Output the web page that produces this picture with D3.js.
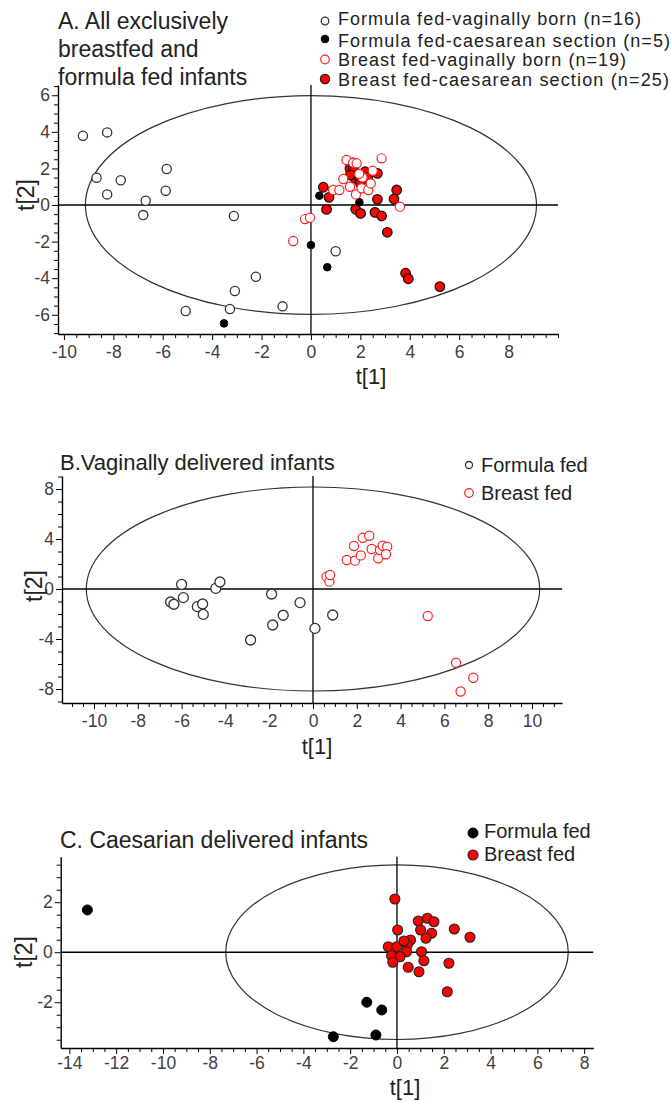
<!DOCTYPE html>
<html>
<head>
<meta charset="utf-8">
<script src="https://cdn.jsdelivr.net/npm/d3@7"></script>
<style>
  body { margin: 0; background: #fff; }
  svg { font-family: "Liberation Sans", Arial, sans-serif; display: block; }
</style>
</head>
<body>
<svg id="chart"></svg>
<script>
// panel A: all exclusively breastfed and formula fed infants, [t1, t2]
const aFormulaVag = [[-9.23,3.79],[-8.25,3.97],[-8.68,1.49],[-7.70,1.35],[-5.84,1.97],[-5.88,0.78],[-8.25,0.58],[-6.69,0.23],[-6.79,-0.55],[-3.12,-0.60],[-2.23,-3.92],[-3.08,-4.70],[-5.07,-5.79],[-3.28,-5.68],[-1.15,-5.54],[1.0,-2.53]];
const aFormulaCs = [[-3.52,-6.47],[0,-2.19],[0.66,-3.4],[0.34,0.51],[1.96,0.15]];
const aBreastVag = [[-0.72,-1.97],[-0.24,-0.77],[-0.04,-0.69],[3.6,-0.09],[2.86,2.55],[1.44,2.46],[1.71,2.31],[2.5,1.87],[1.31,1.42],[0.9,0.82],[1.15,0.82],[1.58,1.0],[1.82,0.58],[2.05,0.91],[2.32,0.82],[2.42,1.18],[2.09,1.51],[1.85,2.28],[1.95,1.7]];
const aBreastCs = [[0.5,0.97],[0.73,0.42],[0.63,-0.24],[3.47,0.82],[3.36,0.33],[2.69,0.31],[1.81,-0.23],[2.01,-0.46],[2.59,-0.4],[2.86,-0.6],[3.09,-1.49],[3.83,-3.73],[3.94,-4.03],[5.22,-4.46],[1.78,1.46],[1.58,2.0],[1.85,1.73],[1.71,2.09],[2.19,1.82],[2.69,1.73],[1.98,1.37],[1.6,1.65],[2.3,1.5],[1.7,2.3],[2.0,1.2]];

// panel B: vaginally delivered
const bFormula = [[-6.5,-1.04],[-6.35,-1.22],[-6.0,0.37],[-5.92,-0.69],[-5.28,-1.41],[-5.04,-1.2],[-5.01,-2.03],[-4.44,0.05],[-4.25,0.56],[-1.89,-0.4],[-1.84,-2.88],[-1.36,-2.1],[-2.85,-4.08],[-0.59,-1.09],[0.09,-3.15],[0.9,-2.08]];
const bBreast = [[0.62,0.99],[0.75,0.59],[0.78,1.12],[1.54,2.32],[1.92,2.27],[1.87,3.44],[2.18,2.69],[2.27,4.1],[2.57,4.26],[2.68,3.2],[2.98,2.46],[3.06,3.12],[3.18,3.46],[3.39,3.38],[3.33,2.78],[5.24,-2.16],[6.53,-5.9],[7.32,-7.1],[6.74,-8.2]];

// panel C: caesarean delivered
const cFormula = [[-13.23,1.69],[-2.72,-3.38],[-1.29,-2.0],[-0.65,-2.31],[-0.9,-3.31]];
const cBreast = [[-0.09,2.13],[0.03,0.89],[0.91,1.25],[1.3,1.36],[1.58,1.22],[1.01,0.89],[1.48,0.76],[1.24,0.56],[2.45,0.93],[3.12,0.6],[0.58,0.49],[0.44,0.29],[-0.37,0.22],[-0.01,0.22],[0.41,0.02],[1.05,0.02],[-0.23,-0.14],[0.13,-0.18],[-0.18,-0.4],[1.15,-0.34],[2.22,-0.44],[0.48,-0.6],[0.94,-0.78],[2.15,-1.58],[0.3,0.45]];

// Hotelling ellipse semi-axes [t1, t2]
const aEllipse = [9.13, 5.98];
const bEllipse = [10.35, 8.16];
const cEllipse = [7.32, 3.49];

// tick labels
const aXLabels = [-10,-8,-6,-4,-2,0,2,4,6,8];
const aYLabels = [-6,-4,-2,0,2,4,6];
const bXLabels = [-10,-8,-6,-4,-2,0,2,4,6,8,10];
const bYLabels = [-8,-4,0,4,8];
const cXLabels = [-14,-12,-10,-8,-6,-4,-2,0,2,4,6,8];
const cYLabels = [-2,0,2];

const width = 671;
const height = 1102;

const svg = d3.select('#chart').attr('width', width).attr('height', height);
svg.append('rect').attr('width', width).attr('height', height).attr('fill', '#fff');

function drawPanel (p) {
    const x = d3.scaleLinear().domain(p.xDomain).range(p.xRange);
    const y = d3.scaleLinear().domain(p.yDomain).range(p.yRange);
    const g = svg.append('g');

    // ellipse
    g.append('ellipse')
        .attr('cx', x(0)).attr('cy', y(0))
        .attr('rx', x(p.ellipse[0]) - x(0))
        .attr('ry', y(0) - y(p.ellipse[1]))
        .attr('fill', 'none').attr('stroke', '#333').attr('stroke-width', 1.2);

    // zero lines
    g.append('line')
        .attr('x1', x(0)).attr('x2', x(0))
        .attr('y1', y(p.yDomain[1])).attr('y2', y(p.yDomain[0]))
        .attr('stroke', '#000').attr('stroke-width', 1.3);
    g.append('line')
        .attr('x1', x(p.xDomain[0])).attr('x2', x(p.xDomain[1]))
        .attr('y1', y(0)).attr('y2', y(0))
        .attr('stroke', '#000').attr('stroke-width', 1.3);

    // axes
    const xMinor = d3.range(Math.ceil(p.xDomain[0] / p.xStep) * p.xStep, p.xDomain[1] + 1e-6, p.xStep);
    const yMinor = d3.range(Math.ceil(p.yDomain[0] / p.yStep) * p.yStep, p.yDomain[1] + 1e-6, p.yStep);

    const xAxis = d3.axisBottom(x).tickValues(xMinor).tickSize(4).tickSizeOuter(0).tickPadding(p.xPad)
        .tickFormat(d => p.xLabels.some(v => Math.abs(v - d) < 1e-6) ? String(Math.round(d)) : '');
    const gx = g.append('g')
        .attr('transform', 'translate(0,' + p.yRange[0] + ')')
        .call(xAxis);
    const yAxis = d3.axisLeft(y).tickValues(yMinor).tickSize(4).tickSizeOuter(0).tickPadding(4)
        .tickFormat(d => p.yLabels.some(v => Math.abs(v - d) < 1e-6) ? String(Math.round(d)) : '');
    const gy = g.append('g')
        .attr('transform', 'translate(' + p.xRange[0] + ',0)')
        .call(yAxis);

    [gx, gy].forEach(a => {
        a.select('.domain').attr('stroke', '#000').attr('stroke-width', 1.4);
        a.selectAll('.tick line').attr('stroke', '#000');
        a.selectAll('.tick text').attr('font-size', 17.5).attr('fill', '#404040')
            .attr('font-family', '"Liberation Sans", Arial, sans-serif');
    });
    gx.selectAll('.tick').filter(d => p.xLabels.some(v => Math.abs(v - d) < 1e-6))
        .select('line').attr('y2', 6);
    gy.selectAll('.tick').filter(d => p.yLabels.some(v => Math.abs(v - d) < 1e-6))
        .select('line').attr('x2', -6);

    // points
    p.series.forEach(s => {
        g.append('g').selectAll('circle')
            .data(s.values)
            .enter()
            .append('circle')
            .attr('cx', d => x(d[0]))
            .attr('cy', d => y(d[1]))
            .attr('r', s.r)
            .attr('fill', s.fill)
            .attr('stroke', s.stroke)
            .attr('stroke-width', s.sw);
    });

    // axis titles
    g.append('text')
        .attr('x', p.xTitle[0]).attr('y', p.xTitle[1])
        .attr('text-anchor', 'middle').attr('font-size', 22).attr('fill', '#222')
        .text('t[1]');
    g.append('text')
        .attr('transform', 'translate(' + p.yTitle[0] + ',' + p.yTitle[1] + ') rotate(-90)')
        .attr('text-anchor', 'middle').attr('font-size', 23).attr('fill', '#222')
        .text('t[2]');

    // title
    p.title.forEach((t, i) => {
        g.append('text')
            .attr('x', p.titlePos[0]).attr('y', p.titlePos[1] + i * p.titleGap)
            .attr('font-size', p.titleSize).attr('fill', '#222')
            .text(t);
    });

    // legend
    p.legend.forEach(l => {
        const s = p.series[l.s];
        g.append('circle')
            .attr('cx', p.legendPos[0]).attr('cy', l.cy)
            .attr('r', l.r)
            .attr('fill', s.fill).attr('stroke', s.stroke).attr('stroke-width', s.sw);
        g.append('text')
            .attr('x', p.legendPos[1]).attr('y', l.ty)
            .attr('font-size', p.legendSize).attr('fill', '#222')
            .attr('textLength', l.len || null)
            .attr('lengthAdjust', 'spacing')
            .text(l.text);
    });
}

drawPanel({
    xDomain: [-10.24, 10.0], xRange: [58, 558],
    yDomain: [-7.05, 6.56], yRange: [334, 85],
    xStep: 0.5, yStep: 0.5, xPad: 8,
    xLabels: aXLabels, yLabels: aYLabels,
    ellipse: aEllipse,
    series: [
        { values: aFormulaVag, r: 4.6, fill: '#fff', stroke: '#333', sw: 1.3 },
        { values: aBreastCs, r: 4.8, fill: '#ff0000', stroke: '#111', sw: 1.2 },
        { values: aFormulaCs, r: 3.8, fill: '#000', stroke: '#000', sw: 1 },
        { values: aBreastVag, r: 4.6, fill: '#fff', stroke: '#ff2020', sw: 1.2 }
    ],
    xTitle: [371, 384], yTitle: [34, 195],
    title: ['A. All exclusively', 'breastfed and', 'formula fed infants'],
    titlePos: [58, 29], titleGap: 28, titleSize: 23,
    legendPos: [325, 338], legendSize: 18,
    legend: [
        { s: 0, cy: 21, r: 3.8, ty: 25, text: 'Formula fed-vaginally born (n=16)', len: 303 },
        { s: 2, cy: 39, r: 3.8, ty: 47, text: 'Formula fed-caesarean section (n=5)', len: 332 },
        { s: 3, cy: 59.5, r: 4.3, ty: 66, text: 'Breast fed-vaginally born (n=19)', len: 288 },
        { s: 1, cy: 79, r: 4.6, ty: 86, text: 'Breast fed-caesarean section (n=25)', len: 331 }
    ]
});

drawPanel({
    xDomain: [-11.46, 11.37], xRange: [62, 562],
    yDomain: [-9.12, 9.04], yRange: [703, 476],
    xStep: 0.5, yStep: 1, xPad: 8,
    xLabels: bXLabels, yLabels: bYLabels,
    ellipse: bEllipse,
    series: [
        { values: bFormula, r: 5, fill: '#fff', stroke: '#333', sw: 1.3 },
        { values: bBreast, r: 4.6, fill: '#fff', stroke: '#ff2020', sw: 1.2 }
    ],
    xTitle: [317, 754], yTitle: [42, 586],
    title: ['B.Vaginally delivered infants'],
    titlePos: [60, 470], titleGap: 0, titleSize: 22,
    legendPos: [469, 481], legendSize: 20,
    legend: [
        { s: 0, cy: 465, r: 3.5, ty: 472, text: 'Formula fed' },
        { s: 1, cy: 493, r: 4.3, ty: 500, text: 'Breast fed' }
    ]
});

drawPanel({
    xDomain: [-14.37, 8.39], xRange: [60.7, 593.3],
    yDomain: [-3.83, 3.82], yRange: [1048, 856.7],
    xStep: 0.5, yStep: 0.5, xPad: 5,
    xLabels: cXLabels, yLabels: cYLabels,
    ellipse: cEllipse,
    series: [
        { values: cFormula, r: 5, fill: '#000', stroke: '#000', sw: 1 },
        { values: cBreast, r: 5, fill: '#ff0000', stroke: '#222', sw: 1.1 }
    ],
    xTitle: [405, 1095], yTitle: [32, 952],
    title: ['C. Caesarian delivered infants'],
    titlePos: [60, 848], titleGap: 0, titleSize: 23,
    legendPos: [473, 484], legendSize: 20,
    legend: [
        { s: 0, cy: 833, r: 5, ty: 838, text: 'Formula fed' },
        { s: 1, cy: 855, r: 5, ty: 861, text: 'Breast fed' }
    ]
});
</script>
</body>
</html>
